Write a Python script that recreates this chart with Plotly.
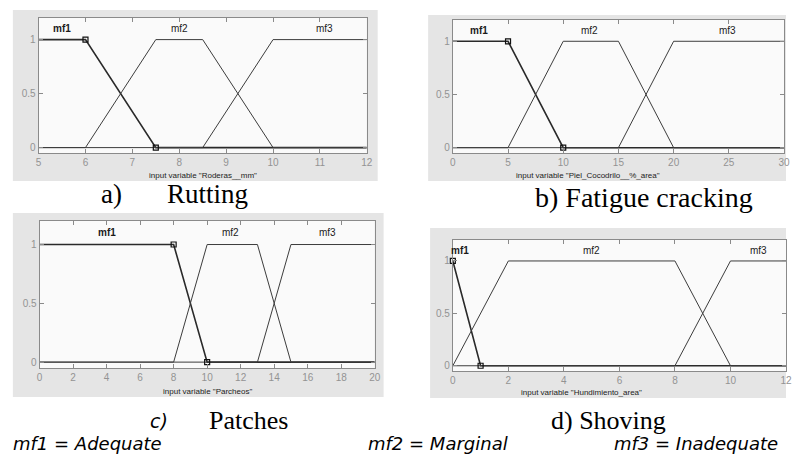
import plotly.graph_objects as go

W, H = 792, 459

# ---------------- data ----------------
# a) Rutting  (input "Roderas__mm")
rut_x1, rut_y1 = [5, 6, 7.5, 12], [1, 1, 0, 0]
rut_x2, rut_y2 = [5, 6, 7.5, 8.5, 10, 12], [0, 0, 1, 1, 0, 0]
rut_x3, rut_y3 = [5, 8.5, 10, 12], [0, 0, 1, 1]
rut_ticks = [5, 6, 7, 8, 9, 10, 11, 12]

# b) Fatigue cracking  (input "Piel_Cocodrilo__%_area")
fat_x1, fat_y1 = [0, 5, 10, 30], [1, 1, 0, 0]
fat_x2, fat_y2 = [0, 5, 10, 15, 20, 30], [0, 0, 1, 1, 0, 0]
fat_x3, fat_y3 = [0, 15, 20, 30], [0, 0, 1, 1]
fat_ticks = [0, 5, 10, 15, 20, 25, 30]

# c) Patches  (input "Parcheos")
pat_x1, pat_y1 = [0, 8, 10, 20], [1, 1, 0, 0]
pat_x2, pat_y2 = [0, 8, 10, 13, 15, 20], [0, 0, 1, 1, 0, 0]
pat_x3, pat_y3 = [0, 13, 15, 20], [0, 0, 1, 1]
pat_ticks = [0, 2, 4, 6, 8, 10, 12, 14, 16, 18, 20]

# d) Shoving  (input "Hundimiento_area")
sho_x1, sho_y1 = [0, 0, 1, 12], [1, 1, 0, 0]
sho_x2, sho_y2 = [0, 2, 8, 10, 12], [0, 1, 1, 0, 0]
sho_x3, sho_y3 = [0, 8, 10, 12], [0, 0, 1, 1]
sho_ticks = [0, 2, 4, 6, 8, 10, 12]

mf_names = ["mf1", "mf2", "mf3"]
y_ticks = [0, 0.5, 1]
y_tick_text = ["0", "0.5", "1"]

# label positions (x in data units) for mf names
rut_lab = [5.5, 8.0, 11.1]
fat_lab = [2.4, 12.4, 24.9]
pat_lab = [4.0, 11.4, 17.2]
sho_lab = [0.25, 5.0, 11.0]

panels = [
    dict(mfs=[(rut_x1, rut_y1), (rut_x2, rut_y2), (rut_x3, rut_y3)], ticks=rut_ticks,
         rng=[5, 12], lab=rut_lab, var='input variable "Roderas__mm"',
         dom=(36, 368, 18, 153), grey=(10, 10, 379, 181), varpos=(202, 175)),
    dict(mfs=[(fat_x1, fat_y1), (fat_x2, fat_y2), (fat_x3, fat_y3)], ticks=fat_ticks,
         rng=[0, 30], lab=fat_lab, var='input variable "Piel_Cocodrilo__%_area"',
         dom=(455, 790, 20, 153), grey=(430, 15, 792, 181), varpos=(592, 175)),
    dict(mfs=[(pat_x1, pat_y1), (pat_x2, pat_y2), (pat_x3, pat_y3)], ticks=pat_ticks,
         rng=[0, 20], lab=pat_lab, var='input variable "Parcheos"',
         dom=(37, 376, 221, 368), grey=(10, 213, 385, 397), varpos=(207, 391)),
    dict(mfs=[(sho_x1, sho_y1), (sho_x2, sho_y2), (sho_x3, sho_y3)], ticks=sho_ticks,
         rng=[0, 12], lab=sho_lab, var='input variable "Hundimiento_area"',
         dom=(455, 792, 240, 371), grey=(432, 228, 792, 398), varpos=(585, 392)),
]

def px(x):
    return x / W

def py(y):
    return 1 - y / H

fig = go.Figure()
shapes = []
annotations = []
layout = {}

AX_COL = "#8a8a8a"
TICK_FONT = dict(family="Liberation Sans, Arial", size=10, color="#939393")

for i, p in enumerate(panels):
    n = "" if i == 0 else str(i + 1)
    xa, ya = "x" + n, "y" + n
    x0, x1, y0, y1 = p["dom"]
    g = p["grey"]
    shapes.append(dict(type="rect", xref="paper", yref="paper", layer="below",
                       x0=px(g[0]), x1=px(g[2]), y0=py(g[3]), y1=py(g[1]),
                       fillcolor="#e5e5e5", line=dict(width=0)))
    shapes.append(dict(type="rect", xref="paper", yref="paper", layer="below",
                       x0=px(x0), x1=px(x1), y0=py(y1), y1=py(y0),
                       fillcolor="#fafafa", line=dict(width=0)))
    layout["xaxis" + n] = dict(domain=[px(x0), px(x1)], range=p["rng"], anchor=ya,
                               tickvals=p["ticks"], ticks="inside", ticklen=4,
                               tickcolor=AX_COL, showline=True, linecolor=AX_COL,
                               linewidth=1, mirror="ticks", showgrid=False,
                               zeroline=False, tickfont=TICK_FONT, fixedrange=True)
    layout["yaxis" + n] = dict(domain=[py(y1), py(y0)], range=[-0.05, 1.2], anchor=xa,
                               tickvals=y_ticks, ticktext=y_tick_text, ticks="inside",
                               ticklen=4, tickcolor=AX_COL, showline=True,
                               linecolor=AX_COL, linewidth=1, mirror="ticks",
                               showgrid=False, zeroline=False, tickfont=TICK_FONT,
                               fixedrange=True)
    for k, (mx, my) in enumerate(p["mfs"]):
        fig.add_trace(go.Scatter(x=mx, y=my, xaxis=xa, yaxis=ya, mode="lines",
                                 line=dict(color="#2a2a2a" if k == 0 else "#3c3c3c",
                                           width=1.6 if k == 0 else 1.0),
                                 showlegend=False, hoverinfo="skip"))
        annotations.append(dict(xref=xa, yref=ya, x=p["lab"][k], y=1.1,
                                text=("<b>%s</b>" % mf_names[k]) if k == 0 else mf_names[k],
                                showarrow=False, yanchor="middle",
                                font=dict(family="Liberation Sans, Arial", size=10,
                                          color="#1a1a1a")))
    mx, my = p["mfs"][0]
    fig.add_trace(go.Scatter(x=mx[1:3], y=my[1:3], xaxis=xa, yaxis=ya, mode="markers",
                             marker=dict(symbol="square-open", size=5, color="#111",
                                         line=dict(width=1.2)),
                             showlegend=False, hoverinfo="skip", cliponaxis=False))
    annotations.append(dict(xref="paper", yref="paper", x=px(p["varpos"][0]),
                            y=py(p["varpos"][1]), text=p["var"], showarrow=False,
                            xanchor="center", yanchor="middle",
                            font=dict(family="Liberation Sans, Arial", size=8,
                                      color="#222")))

SERIF = "Liberation Serif, Times New Roman, serif"
SANS_IT = "DejaVu Sans, Verdana, sans-serif"

def cap(x, y, text, family, size, italic=False):
    annotations.append(dict(xref="paper", yref="paper", x=px(x), y=py(y), text=text,
                            showarrow=False, xanchor="center", yanchor="middle",
                            font=dict(family=family, size=size, color="#000",
                                      style="italic" if italic else "normal")))

cap(110, 194, "a)", SERIF, 27)
cap(207, 194, "Rutting", SERIF, 27)
cap(648, 197, "b) Fatigue cracking", SERIF, 28)
cap(158, 421, "c)", SANS_IT, 19, True)
cap(248, 420, "Patches", SERIF, 26)
cap(612, 420, "d) Shoving", SERIF, 26)
cap(85, 443, "mf1 = Adequate", SANS_IT, 18, True)
cap(440, 443, "mf2 = Marginal", SANS_IT, 18, True)
cap(701, 443, "mf3 = Inadequate", SANS_IT, 18, True)

fig.update_layout(width=W, height=H, margin=dict(l=0, r=0, t=0, b=0),
                  paper_bgcolor="white", plot_bgcolor="rgba(0,0,0,0)",
                  shapes=shapes, annotations=annotations, showlegend=False, **layout)

fig.write_html("out.html", config={"displayModeBar": False})
